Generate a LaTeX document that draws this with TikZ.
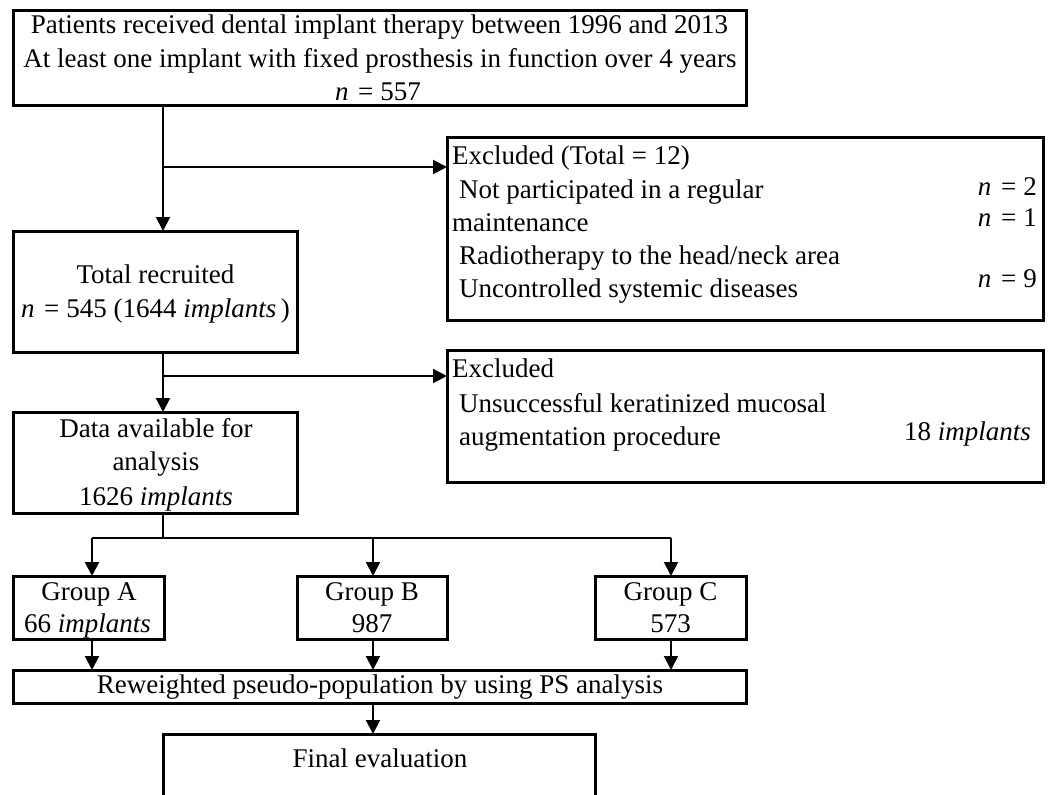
\documentclass[tikz,border=0pt]{standalone}
\usepackage{fontspec}
\setmainfont{Liberation Serif}
\usetikzlibrary{arrows.meta}
\tikzset{
  box/.style={draw, line width=3pt, rectangle, inner sep=0pt, outer sep=0pt},
  arr/.style={line width=2pt, -{Triangle[width=14pt,length=14pt]}},
  ln/.style={line width=2pt},
  txt/.style={inner sep=0pt, anchor=base},
  txl/.style={inner sep=0pt, anchor=base west},
  txr/.style={inner sep=0pt, anchor=base east},
}
\newcommand{\nn}{\textit{n}\hspace{0.36em}=\hspace{0.26em}}
\begin{document}
\begin{tikzpicture}[x=1pt, y=-1pt, font=\fontsize{27}{33}\selectfont]
\clip (0,0) rectangle (1053,795);
\path[use as bounding box] (0,0) rectangle (1053,795);
% boxes
\node[box, minimum width=733pt, minimum height=95pt] (top) at (379.5,57.5) {};
\node[box, minimum width=596pt, minimum height=183pt] (ex1) at (745,228.5) {};
\node[box, minimum width=284pt, minimum height=121pt] (tot) at (155,291.5) {};
\node[box, minimum width=596pt, minimum height=132pt] (ex2) at (745,416) {};
\node[box, minimum width=284pt, minimum height=101pt] (data) at (155,462.5) {};
\node[box, minimum width=151pt, minimum height=63pt] (gA) at (88.5,607.5) {};
\node[box, minimum width=150pt, minimum height=63pt] (gB) at (372,607.5) {};
\node[box, minimum width=151pt, minimum height=63pt] (gC) at (670.5,607.5) {};
\node[box, minimum width=733pt, minimum height=33pt] (rew) at (379.5,686.5) {};
\node[box, minimum width=432pt, minimum height=126pt] (fin) at (379,797) {};
% texts
\node[txt] (t1) at (379.5,33) {Patients received dental implant therapy between 1996 and 2013};
\node[txt] (t2) at (380,67) {At least one implant with fixed prosthesis in function over 4 years};
\node[txt] (t3) at (378,100) {\nn 557};
\node[txl] (e1) at (452,164) {Excluded (Total = 12)};
\node[txl] (e2) at (459,198) {Not participated in a regular};
\node[txl] (e3) at (452,231) {maintenance};
\node[txl] (e4) at (459,264) {Radiotherapy to the head/neck area};
\node[txl] (e5) at (459,297) {Uncontrolled systemic diseases};
\node[txr] (n1) at (1037,195) {\nn 2};
\node[txr] (n2) at (1037,226) {\nn 1};
\node[txr] (n3) at (1037,287) {\nn 9};
\node[txt] (r1) at (155.5,283) {Total recruited};
\node[txt] (r2) at (155.5,317) {\nn 545 (1644 \textit{implants}\,)};
\node[txl] (x1) at (452,377) {Excluded};
\node[txl] (x2) at (459,412) {Unsuccessful keratinized mucosal};
\node[txl] (x3) at (459,445) {augmentation procedure};
\node[txr] (x4) at (1031,440) {18 \textit{implants}};
\node[txt] (d1) at (156,437) {Data available for};
\node[txt] (d2) at (156,470) {analysis};
\node[txt] (d3) at (156,505) {1626 \textit{implants}};
\node[txt] (a1) at (89,600) {Group A};
\node[txt] (a2) at (87.5,632) {66 \textit{implants}};
\node[txt] (b1) at (372,600) {Group B};
\node[txt] (b2) at (372,632) {987};
\node[txt] (c1) at (670.5,600) {Group C};
\node[txt] (c2) at (670.5,632) {573};
\node[txt] (w1) at (380,693) {Reweighted pseudo-population by using PS analysis};
\node[txt] (f1) at (380,767) {Final evaluation};
% junction coordinates
\coordinate (j1) at (163,167);
\coordinate (j2) at (163,376);
\coordinate (j3) at (163,538);
\coordinate (xa) at (92,538);
\coordinate (xb) at (373,538);
\coordinate (xc) at (671,538);
% connectors
\draw[arr] (top.south -| j1) -- (tot.north -| j1);
\draw[arr] (j1) -- (ex1.west |- j1);
\draw[arr] (tot.south -| j2) -- (data.north -| j2);
\draw[arr] (j2) -- (ex2.west |- j2);
\draw[ln] (data.south -| j3) -- (j3);
\draw[ln] (xa) -- (xc);
\draw[arr] (xa) -- (gA.north -| xa);
\draw[arr] (xb) -- (gB.north -| xb);
\draw[arr] (xc) -- (gC.north -| xc);
\draw[arr] (gA.south -| xa) -- (rew.north -| xa);
\draw[arr] (gB.south -| xb) -- (rew.north -| xb);
\draw[arr] (gC.south -| xc) -- (rew.north -| xc);
\draw[arr] (rew.south -| xb) -- (fin.north -| xb);
\end{tikzpicture}
\end{document}
